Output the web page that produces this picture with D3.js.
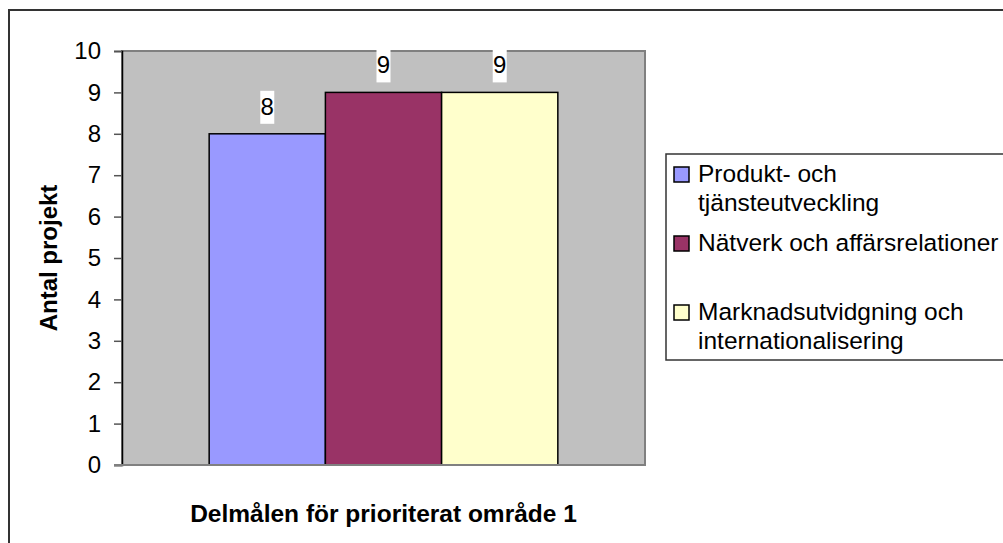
<!DOCTYPE html>
<html>
<head>
<meta charset="utf-8">
<script src="https://cdn.jsdelivr.net/npm/d3@7"></script>
<style>
  body { margin: 0; background: #fff; }
  svg { display: block; font-family: "Liberation Sans", Arial, sans-serif; }
</style>
</head>
<body>
<svg width="1003" height="543"></svg>
<script>
// data
var categories = ["Delmålen för prioriterat område 1"];
var seriesNames = [
  ["Produkt- och", "tjänsteutveckling"],
  ["Nätverk och affärsrelationer"],
  ["Marknadsutvidgning och", "internationalisering"]
];
var seriesValues = [8, 9, 9];
var seriesColors = ["#9999ff", "#993366", "#ffffcc"];
var yTicks = [0, 1, 2, 3, 4, 5, 6, 7, 8, 9, 10];

var svg = d3.select("svg");

// yttre ram
svg.append("rect")
  .attr("x", 9).attr("y", 10)
  .attr("width", 1100).attr("height", 700)
  .attr("fill", "#fff")
  .attr("stroke", "#333").attr("stroke-width", 2);

var plot = { left: 122, right: 645, top: 51, bottom: 465 };

var x = d3.scaleBand()
  .domain(categories)
  .range([plot.left, plot.right]);

// gap width 150% -> 1.5 bar widths of space around the group
var barW = x.bandwidth() / (seriesValues.length + 1.5);
var xs = d3.scaleBand()
  .domain(d3.range(seriesValues.length))
  .range([x(categories[0]) + barW * 0.75, x(categories[0]) + x.bandwidth() - barW * 0.75]);

var y = d3.scaleLinear()
  .domain([0, 10])
  .range([plot.bottom, plot.top]);

// plot area
svg.append("rect")
  .attr("x", plot.left).attr("y", plot.top)
  .attr("width", plot.right - plot.left)
  .attr("height", plot.bottom - plot.top)
  .attr("fill", "#c0c0c0")
  .attr("stroke", "#808080").attr("stroke-width", 2);

// bars
svg.selectAll(".bar")
  .data(seriesValues)
  .enter()
  .append("rect")
  .attr("class", "bar")
  .attr("x", function(d, i) { return xs(i); })
  .attr("y", function(d) { return y(d); })
  .attr("width", xs.bandwidth())
  .attr("height", function(d) { return y(0) - y(d); })
  .attr("fill", function(d, i) { return seriesColors[i]; })
  .attr("stroke", "#000").attr("stroke-width", 1.5);

// y axis
var yAxis = d3.axisLeft(y)
  .tickValues(yTicks)
  .tickSize(8)
  .tickPadding(13);

var gy = svg.append("g")
  .attr("transform", "translate(" + plot.left + ",0)")
  .call(yAxis);
gy.select(".domain").attr("stroke", "#000").attr("stroke-width", 1.5);
gy.selectAll(".tick line").attr("stroke", "#555").attr("stroke-width", 1.5);
gy.selectAll(".tick text")
  .attr("font-size", 24)
  .attr("font-family", "Liberation Sans, Arial, sans-serif")
  .attr("fill", "#000");

// x axis line
svg.append("line")
  .attr("x1", plot.left - 8).attr("x2", plot.right)
  .attr("y1", y(0)).attr("y2", y(0))
  .attr("stroke", "#808080").attr("stroke-width", 2);

// data labels
var lab = svg.selectAll(".lab")
  .data(seriesValues)
  .enter()
  .append("g")
  .attr("class", "lab")
  .attr("transform", function(d, i) {
    return "translate(" + (xs(i) + xs.bandwidth() / 2) + "," + (y(d) - 10) + ")";
  });
lab.append("rect")
  .attr("x", -7).attr("y", -33)
  .attr("width", 14).attr("height", 33)
  .attr("fill", "#fff");
lab.append("text")
  .attr("y", -9)
  .attr("text-anchor", "middle")
  .attr("font-size", 24)
  .text(function(d) { return d; });

// axis titles
svg.append("text")
  .attr("x", (plot.left + plot.right) / 2)
  .attr("y", 522)
  .attr("text-anchor", "middle")
  .attr("font-size", 24.5)
  .attr("font-weight", "bold")
  .text(categories[0]);

svg.append("text")
  .attr("transform", "translate(57," + ((plot.top + plot.bottom) / 2) + ") rotate(-90)")
  .attr("text-anchor", "middle")
  .attr("font-size", 24)
  .attr("font-weight", "bold")
  .text("Antal projekt");

// legend
svg.append("rect")
  .attr("x", 666).attr("y", 154)
  .attr("width", 400).attr("height", 206)
  .attr("fill", "#fff")
  .attr("stroke", "#333").attr("stroke-width", 1.5);

var leg = svg.selectAll(".leg")
  .data(seriesNames)
  .enter()
  .append("g")
  .attr("class", "leg")
  .attr("transform", function(d, i) { return "translate(674," + (182 + i * 69) + ")"; });

leg.append("rect")
  .attr("x", 0).attr("y", -15)
  .attr("width", 15).attr("height", 15)
  .attr("fill", function(d, i) { return seriesColors[i]; })
  .attr("stroke", "#000").attr("stroke-width", 1.5);

leg.append("text")
  .attr("x", 24)
  .attr("font-size", 24.5)
  .selectAll("tspan")
  .data(function(d) { return d; })
  .enter()
  .append("tspan")
  .attr("x", 24)
  .attr("y", function(d, i) { return i * 29; })
  .text(function(d) { return d; });
</script>
</body>
</html>
